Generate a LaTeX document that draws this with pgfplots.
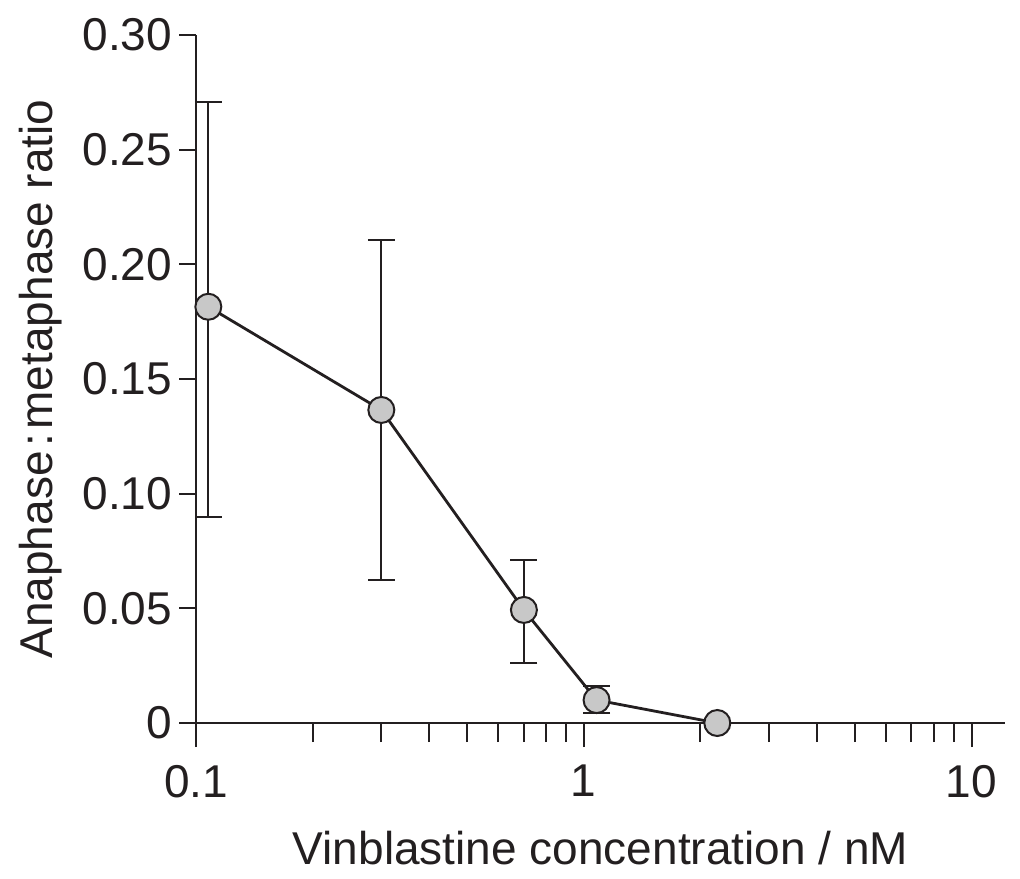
\documentclass[border=0pt]{standalone}
\usepackage{pgfplots}
\pgfplotsset{compat=1.18}
\usepackage{fontspec}
\setmainfont{Liberation Sans}
\definecolor{ink}{HTML}{231F20}
\definecolor{dotfill}{HTML}{C8C8C8}
\begin{document}
\begin{tikzpicture}
\useasboundingbox (-98pt,-77.5pt) rectangle (412pt,361.5pt);
\begin{axis}[
  at={(0,0)}, anchor=south west,
  scale only axis, width=404.5pt, height=344pt,
  xmode=log, xmin=0.1, xmax=12.2, ymin=0, ymax=0.30,
  axis lines=left, axis line style={-, line width=1pt, color=ink},
  xtick={0.1,1,10}, xticklabels={0.1,1,10},
  minor xtick={0.2,0.3,0.4,0.5,0.6,0.7,0.8,0.9,2,3,4,5,6,7,8,9},
  ytick={0,0.05,0.10,0.15,0.20,0.25,0.30},
  yticklabels={0,0.05,0.10,0.15,0.20,0.25,0.30},
  tick align=outside, tick style={line width=1pt, color=ink},
  major tick length=12pt, minor tick length=9.5pt,
  ytick style={/pgfplots/major tick length=8.5pt},
  ticklabel style={font=\fontsize{23}{27}\selectfont, color=ink},
  xticklabel style={yshift=-5.5pt},
  yticklabel style={xshift=3.5pt},
  label style={font=\fontsize{23}{27}\selectfont, color=ink},
  xlabel={Vinblastine concentration / nM},
  xlabel style={yshift=-10pt},
  ylabel={Anaphase\hspace{0.1em}:\hspace{0.1em}metaphase ratio},
  ylabel style={yshift=3.5pt},
  clip=false,
]
\addplot[ink, line width=1.4pt, mark=*, mark size=6.5pt,
  mark options={fill=dotfill, draw=ink, line width=1pt},
  error bars/.cd, y dir=both, y explicit, error mark=|,
  error bar style={line width=1pt, ink},
  error mark options={line width=1pt, ink, mark size=6.75pt}]
 table[x=x, y=y, y error plus=ep, y error minus=em] {
x y ep em
0.1076 0.1815 0.0893 0.0917
0.3006 0.1365 0.0740 0.0740
0.701 0.0493 0.0218 0.0233
1.079 0.0100 0.0061 0.0056
2.21 0 0 0
};
\end{axis}
\end{tikzpicture}
\end{document}
